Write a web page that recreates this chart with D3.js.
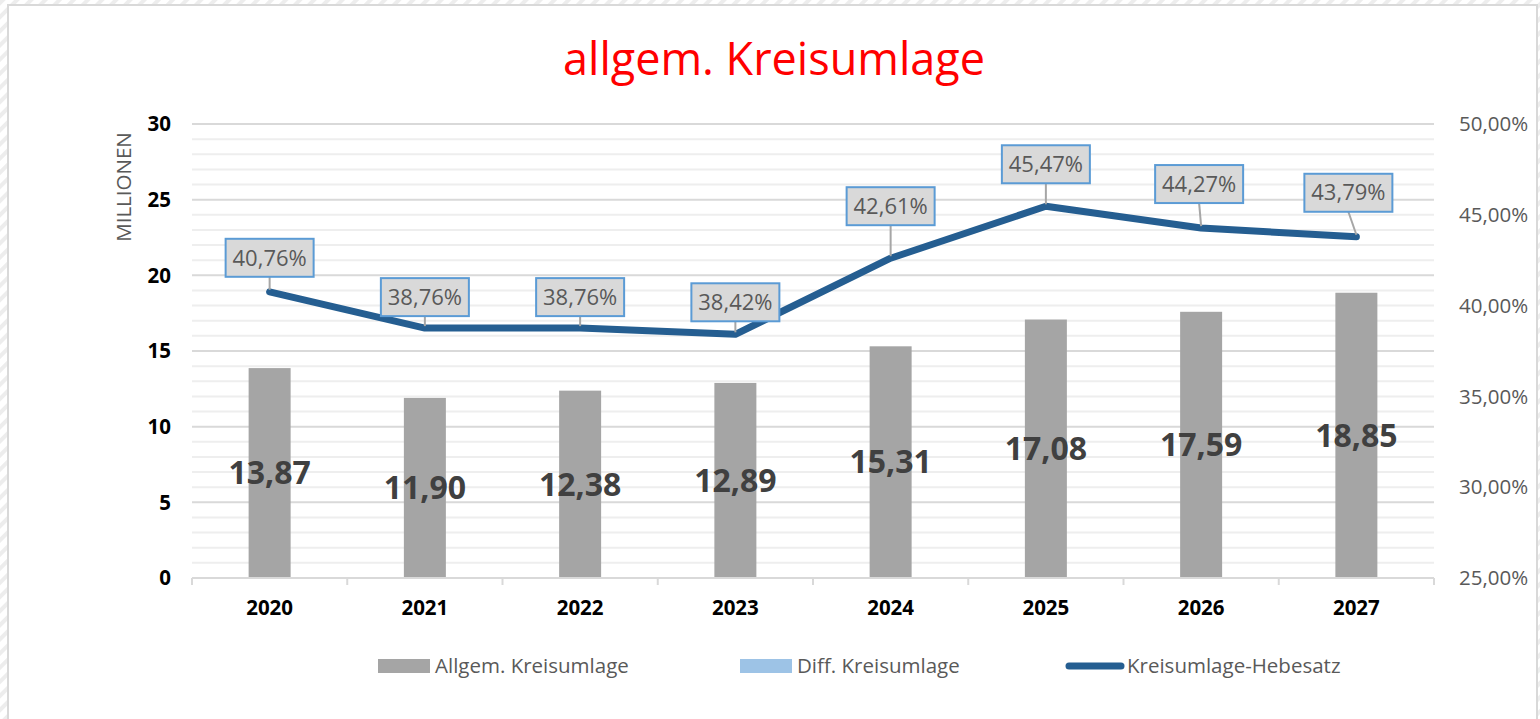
<!DOCTYPE html>
<html>
<head>
<meta charset="utf-8">
<script src="https://cdn.jsdelivr.net/npm/d3@7"></script>
<style>
  body { margin: 0; background: #fff; }
  svg { display: block; font-family: "Open Sans", sans-serif; }
</style>
</head>
<body>
<svg id="chart" width="1540" height="719"></svg>
<script>
// chart data
const years = ["2020", "2021", "2022", "2023", "2024", "2025", "2026", "2027"];
const umlage = [13.87, 11.90, 12.38, 12.89, 15.31, 17.08, 17.59, 18.85]; // Mio EUR
const hebesatz = [0.4076, 0.3876, 0.3876, 0.3842, 0.4261, 0.4547, 0.4427, 0.4379];
const leftTicks = [0, 5, 10, 15, 20, 25, 30];
const rightTicks = [0.25, 0.30, 0.35, 0.40, 0.45, 0.50];
const legendNames = ["Allgem. Kreisumlage", "Diff. Kreisumlage", "Kreisumlage-Hebesatz"];

// manual offsets of the percent boxes (layout only)
const labelShift = [[0, -34], [0, -31], [0, -31], [0, -32], [0, -52], [0, -42], [-2, -44], [-8, -44]];

const svg = d3.select("#chart");
const pLeft = 192, pRight = 1434, pTop = 124, pBottom = 578;

// hatched frame around the chart
const defs = svg.append("defs");
const pat = defs.append("pattern")
  .attr("id", "hatch")
  .attr("patternUnits", "userSpaceOnUse")
  .attr("width", 10).attr("height", 10)
  .attr("patternTransform", "rotate(45)");
pat.append("rect").attr("width", 10).attr("height", 10).attr("fill", "#fff");
pat.append("rect").attr("width", 4).attr("height", 10).attr("fill", "#ededed");
svg.append("rect").attr("width", 1540).attr("height", 719).attr("fill", "url(#hatch)");
svg.append("rect")
  .attr("x", 8).attr("y", 5).attr("width", 1529).attr("height", 720)
  .attr("fill", "#fff").attr("stroke", "#d9d9d9").attr("stroke-width", 2);

const x = d3.scaleBand().domain(years).range([pLeft, pRight]).padding(0);
const y = d3.scaleLinear().domain([0, 30]).range([pBottom, pTop]);
const y2 = d3.scaleLinear().domain([0.25, 0.5]).range([pBottom, pTop]);

// gridlines, minor each 1, major each 5
const grid = svg.append("g");
grid.selectAll("line")
  .data(d3.range(1, 31))
  .join("line")
  .attr("x1", pLeft).attr("x2", pRight)
  .attr("y1", d => y(d)).attr("y2", d => y(d))
  .attr("stroke", d => d % 5 === 0 ? "#d9d9d9" : "#eeeeee")
  .attr("stroke-width", 2);

// bars
const barW = 42;
svg.append("g").selectAll("rect")
  .data(umlage)
  .join("rect")
  .attr("x", (d, i) => x(years[i]) + x.bandwidth() / 2 - barW / 2)
  .attr("y", d => y(d))
  .attr("width", barW)
  .attr("height", d => y(0) - y(d))
  .attr("fill", "#a5a5a5");

// x axis
const xAxis = svg.append("g");
xAxis.append("line")
  .attr("x1", pLeft).attr("x2", pRight)
  .attr("y1", pBottom).attr("y2", pBottom)
  .attr("stroke", "#d9d9d9").attr("stroke-width", 2);
xAxis.selectAll("line.tick")
  .data(d3.range(years.length + 1))
  .join("line")
  .attr("class", "tick")
  .attr("x1", i => pLeft + i * x.bandwidth())
  .attr("x2", i => pLeft + i * x.bandwidth())
  .attr("y1", pBottom).attr("y2", pBottom + 7)
  .attr("stroke", "#d9d9d9").attr("stroke-width", 2);
xAxis.selectAll("text")
  .data(years)
  .join("text")
  .attr("x", d => x(d) + x.bandwidth() / 2)
  .attr("y", 615)
  .attr("text-anchor", "middle")
  .attr("font-size", 20.5)
  .attr("font-weight", "bold")
  .attr("fill", "#000")
  .text(d => d);

// left axis
svg.append("g").selectAll("text")
  .data(leftTicks)
  .join("text")
  .attr("x", 171)
  .attr("y", d => y(d))
  .attr("dy", "0.35em")
  .attr("text-anchor", "end")
  .attr("font-size", 20.5)
  .attr("font-weight", "bold")
  .attr("fill", "#000")
  .text(d => d);

svg.append("text")
  .attr("transform", "translate(131,187) rotate(-90)")
  .attr("text-anchor", "middle")
  .attr("font-size", 20.5)
  .attr("fill", "#595959")
  .text("MILLIONEN");

// right axis
const pct = d => d3.format(".2f")(d * 100).replace(".", ",") + "%";
svg.append("g").selectAll("text")
  .data(rightTicks)
  .join("text")
  .attr("x", 1459)
  .attr("y", d => y2(d))
  .attr("dy", "0.35em")
  .attr("font-size", 20.5)
  .attr("fill", "#595959")
  .text(d => pct(d));

// bar value labels (centre of bar)
svg.append("g").selectAll("text")
  .data(umlage)
  .join("text")
  .attr("x", (d, i) => x(years[i]) + x.bandwidth() / 2)
  .attr("y", d => y(d / 2))
  .attr("dy", "0.35em")
  .attr("text-anchor", "middle")
  .attr("font-size", 32)
  .attr("font-weight", "bold")
  .attr("fill", "#404040")
  .text(d => d.toFixed(2).replace(".", ","));

// Hebesatz line
const cx = i => x(years[i]) + x.bandwidth() / 2;
const line = d3.line()
  .x((d, i) => cx(i))
  .y(d => y2(d));

svg.append("path")
  .datum(hebesatz)
  .attr("d", line)
  .attr("fill", "none")
  .attr("stroke", "#255e91")
  .attr("stroke-width", 7)
  .attr("stroke-linejoin", "round")
  .attr("stroke-linecap", "round");

// percent callouts
const boxW = 88, boxH = 38;
const callouts = svg.append("g").selectAll("g")
  .data(hebesatz)
  .join("g")
  .attr("transform", (d, i) => `translate(${cx(i) + labelShift[i][0]},${y2(d) + labelShift[i][1]})`);

callouts.append("line")
  .attr("x1", 0).attr("y1", boxH / 2)
  .attr("x2", (d, i) => -labelShift[i][0])
  .attr("y2", (d, i) => -labelShift[i][1] - 2)
  .attr("stroke", "#a6a6a6")
  .attr("stroke-width", 2)
  .attr("display", (d, i) => -labelShift[i][1] - boxH / 2 > 8 ? null : "none");

callouts.append("rect")
  .attr("x", -boxW / 2).attr("y", -boxH / 2)
  .attr("width", boxW).attr("height", boxH)
  .attr("fill", "#d9d9d9")
  .attr("stroke", "#5b9bd5")
  .attr("stroke-width", 2);

callouts.append("text")
  .attr("text-anchor", "middle")
  .attr("dy", "0.35em")
  .attr("font-size", 22)
  .attr("fill", "#595959")
  .text(d => pct(d));

// title
svg.append("text")
  .attr("x", 774).attr("y", 75)
  .attr("text-anchor", "middle")
  .attr("font-size", 45)
  .attr("fill", "#ff0000")
  .text("allgem. Kreisumlage");

// legend
const lg = svg.append("g").attr("font-size", 20.5).attr("fill", "#595959");
const legendX = [378, 740, 1066];
const swatch = ["#a5a5a5", "#9dc3e6"];
legendNames.forEach((name, i) => {
  const g = lg.append("g").attr("transform", `translate(${legendX[i]},666)`);
  if (i < 2) {
    g.append("rect").attr("x", 0).attr("y", -7).attr("width", 52).attr("height", 14).attr("fill", swatch[i]);
  } else {
    g.append("line").attr("x1", 3).attr("x2", 55).attr("y1", 0).attr("y2", 0)
      .attr("stroke", "#255e91").attr("stroke-width", 7).attr("stroke-linecap", "round");
  }
  g.append("text")
    .attr("x", i < 2 ? 57 : 61)
    .attr("dy", "0.35em")
    .text(name);
});
</script>
</body>
</html>
